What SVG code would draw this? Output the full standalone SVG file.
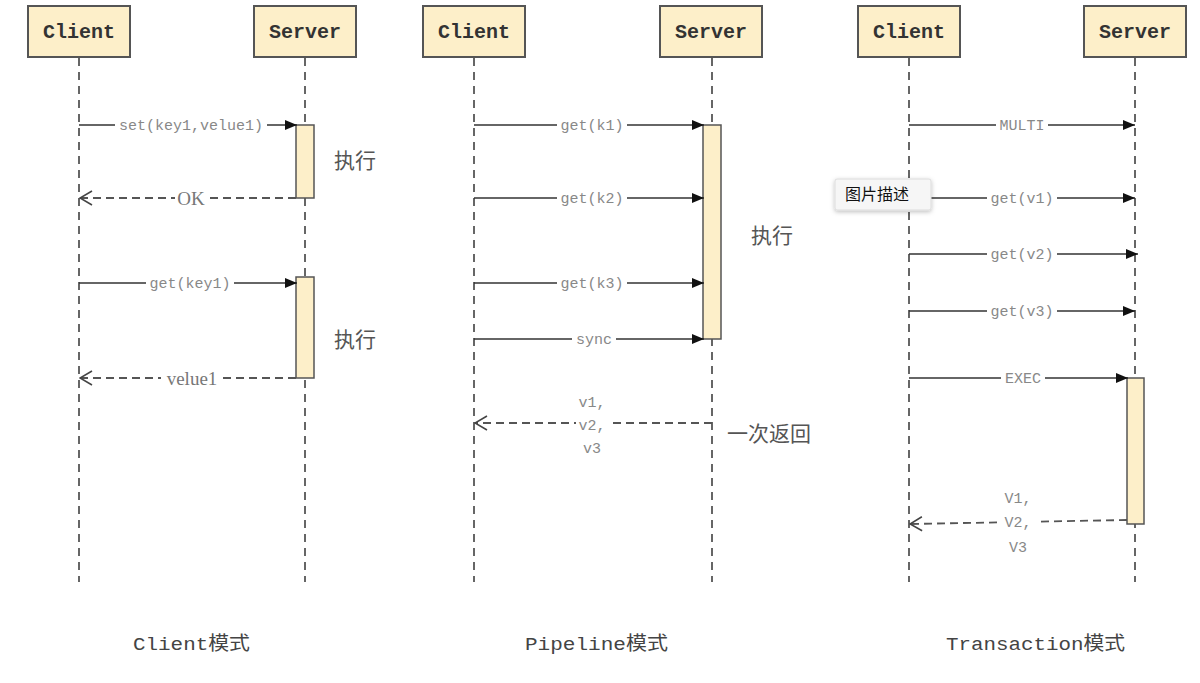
<svg xmlns="http://www.w3.org/2000/svg" width="1200" height="683" viewBox="0 0 1200 683">
<defs>
<style>
.box{fill:#fdefc9;stroke:#555;stroke-width:2}
.act{fill:#fdefc9;stroke:#555;stroke-width:1.5}
.life{stroke:#666;stroke-width:2;stroke-dasharray:8,6;fill:none}
.msg{stroke:#333;stroke-width:1.5;fill:none;marker-end:url(#solid)}
.ret{stroke:#555;stroke-width:1.8;stroke-dasharray:8,5;fill:none;marker-end:url(#open)}
.bg{fill:#fff}
.title{font-family:"Liberation Mono","Noto Sans CJK SC",monospace;font-size:20px;font-weight:bold;fill:#333;text-anchor:middle}
.lbl{font-family:"Liberation Mono","Noto Sans CJK SC",monospace;font-size:15px;fill:#888;text-anchor:middle}
.rlbl{font-family:"Liberation Serif","Noto Sans CJK SC",serif;font-size:19px;fill:#777;text-anchor:middle}
.note{font-family:"Noto Sans CJK SC",sans-serif;font-size:21px;fill:#555}
.cap{font-family:"Liberation Mono","Noto Sans CJK SC",monospace;font-size:19px;fill:#444}
</style>
<marker id="solid" viewBox="0 0 12 10" refX="12" refY="5" markerWidth="12" markerHeight="10" markerUnits="userSpaceOnUse" orient="auto">
<path d="M0,0 L12,5 L0,10 z" fill="#111"/>
</marker>
<marker id="open" viewBox="0 0 14 16" refX="13" refY="8" markerWidth="14" markerHeight="16" markerUnits="userSpaceOnUse" orient="auto">
<path d="M1,1 L13,8 L1,15" fill="none" stroke="#444" stroke-width="1.6"/>
</marker>
<filter id="sh" x="-20%" y="-30%" width="140%" height="170%">
<feDropShadow dx="0" dy="1.5" stdDeviation="2" flood-color="#000" flood-opacity="0.25"/>
</filter>
</defs>
<rect width="1200" height="683" fill="#fff"/>

<g id="lifelines">
<line class="life" x1="79" y1="58" x2="79" y2="582"/>
<line class="life" x1="305" y1="58" x2="305" y2="582"/>
<line class="life" x1="474" y1="58" x2="474" y2="582"/>
<line class="life" x1="712" y1="58" x2="712" y2="582"/>
<line class="life" x1="909" y1="58" x2="909" y2="582"/>
<line class="life" x1="1135" y1="58" x2="1135" y2="582"/>
</g>

<g id="p1-client"><rect class="box" x="28" y="6" width="102" height="51"/><text class="title" x="79" y="38">Client</text></g>
<g id="p1-server"><rect class="box" x="254" y="6" width="102" height="51"/><text class="title" x="305" y="38">Server</text></g>
<g id="p2-client"><rect class="box" x="423" y="6" width="102" height="51"/><text class="title" x="474" y="38">Client</text></g>
<g id="p2-server"><rect class="box" x="660" y="6" width="102" height="51"/><text class="title" x="711" y="38">Server</text></g>
<g id="p3-client"><rect class="box" x="858" y="6" width="102" height="51"/><text class="title" x="909" y="38">Client</text></g>
<g id="p3-server"><rect class="box" x="1084" y="6" width="102" height="51"/><text class="title" x="1135" y="38">Server</text></g>

<g id="activations">
<rect class="act" x="296" y="125" width="18" height="73"/>
<rect class="act" x="296" y="277" width="18" height="101"/>
<rect class="act" x="703" y="125" width="18" height="214"/>
<rect class="act" x="1127" y="378" width="17" height="146"/>
</g>

<g id="connectors">
<line class="msg" x1="79" y1="125" x2="297" y2="125"/>
<rect class="bg" x="115" y="118" width="152" height="14"/>
<text class="lbl" x="191" y="130">set(key1,velue1)</text>
<line class="ret" x1="296" y1="198" x2="80" y2="198"/>
<rect class="bg" x="175" y="190" width="32" height="16"/>
<text class="rlbl" x="191" y="205">OK</text>
<line class="msg" x1="79" y1="283" x2="297" y2="283"/>
<rect class="bg" x="146" y="276" width="88" height="14"/>
<text class="lbl" x="190" y="288">get(key1)</text>
<line class="ret" x1="296" y1="378" x2="80" y2="378"/>
<rect class="bg" x="161" y="370" width="62" height="16"/>
<text class="rlbl" x="192" y="385">velue1</text>

<line class="msg" x1="474" y1="125" x2="704" y2="125"/>
<rect class="bg" x="557" y="118" width="70" height="14"/>
<text class="lbl" x="592" y="130">get(k1)</text>
<line class="msg" x1="474" y1="198" x2="704" y2="198"/>
<rect class="bg" x="557" y="191" width="70" height="14"/>
<text class="lbl" x="592" y="203">get(k2)</text>
<line class="msg" x1="474" y1="283" x2="704" y2="283"/>
<rect class="bg" x="557" y="276" width="70" height="14"/>
<text class="lbl" x="592" y="288">get(k3)</text>
<line class="msg" x1="474" y1="339" x2="704" y2="339"/>
<rect class="bg" x="572" y="332" width="44" height="14"/>
<text class="lbl" x="594" y="344">sync</text>
<line class="ret" x1="712" y1="423" x2="475" y2="423"/>
<rect class="bg" x="576" y="416" width="32" height="14"/>
<text class="lbl" x="592" y="407">v1,</text>
<text class="lbl" x="592" y="430">v2,</text>
<text class="lbl" x="592" y="453">v3</text>

<line class="msg" x1="909" y1="125" x2="1135" y2="125"/>
<rect class="bg" x="996" y="118" width="52" height="14"/>
<text class="lbl" x="1022" y="130">MULTI</text>
<line class="msg" x1="909" y1="198" x2="1135" y2="198"/>
<rect class="bg" x="987" y="191" width="70" height="14"/>
<text class="lbl" x="1022" y="203">get(v1)</text>
<line class="msg" x1="909" y1="254" x2="1138" y2="254"/>
<rect class="bg" x="987" y="247" width="70" height="14"/>
<text class="lbl" x="1022" y="259">get(v2)</text>
<line class="msg" x1="909" y1="311" x2="1135" y2="311"/>
<rect class="bg" x="987" y="304" width="70" height="14"/>
<text class="lbl" x="1022" y="316">get(v3)</text>
<line class="msg" x1="909" y1="378" x2="1128" y2="378"/>
<rect class="bg" x="1001" y="371" width="44" height="14"/>
<text class="lbl" x="1023" y="383">EXEC</text>
<line class="ret" x1="1127" y1="520" x2="910" y2="524"/>
<rect class="bg" x="1000" y="514" width="38" height="15"/>
<text class="lbl" x="1018" y="503">V1,</text>
<text class="lbl" x="1018" y="527">V2,</text>
<text class="lbl" x="1018" y="552">V3</text>
</g>

<g id="notes">
<text class="note" x="334" y="168">执行</text>
<text class="note" x="334" y="347">执行</text>
<text class="note" x="751" y="243">执行</text>
<text class="note" x="727" y="441">一次返回</text>
</g>

<g id="tooltip">
<rect x="835" y="179" width="96" height="31" rx="2" fill="#f6f6f6" stroke="#dcdcdc" filter="url(#sh)"/>
<text x="845" y="200" font-family="Noto Sans CJK SC,sans-serif" font-size="16" fill="#111">图片描述</text>
</g>

<g id="captions">
<text class="cap" x="133" y="650" textLength="117" lengthAdjust="spacingAndGlyphs">Client模式</text>
<text class="cap" x="525" y="650" textLength="143" lengthAdjust="spacingAndGlyphs">Pipeline模式</text>
<text class="cap" x="946" y="650" textLength="179" lengthAdjust="spacingAndGlyphs">Transaction模式</text>
</g>
</svg>
